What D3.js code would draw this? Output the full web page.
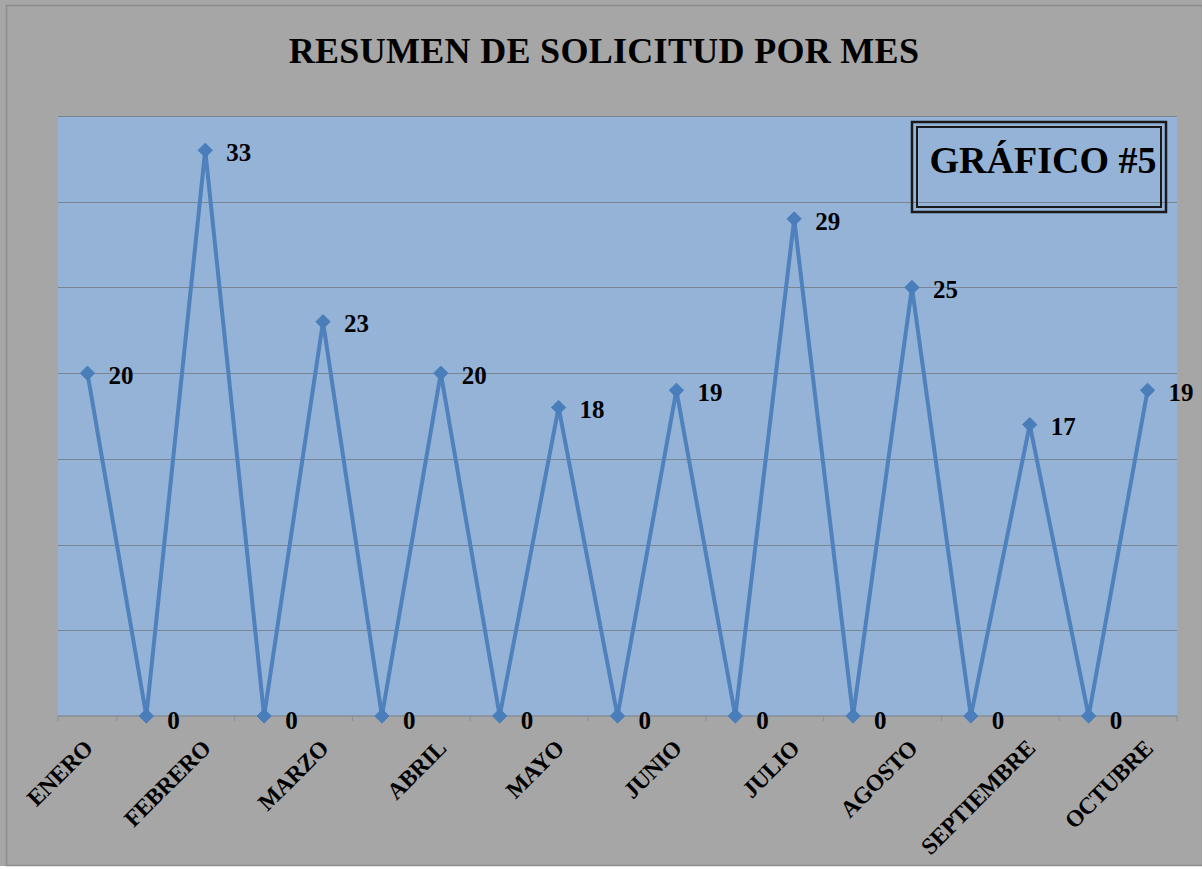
<!DOCTYPE html>
<html>
<head>
<meta charset="utf-8">
<script src="https://cdn.jsdelivr.net/npm/d3@7"></script>
<style>
  body { margin: 0; background: #ffffff; }
  svg { display: block; }
  text { font-family: "Liberation Serif", "Times New Roman", serif; font-weight: bold; }
</style>
</head>
<body>
<div id="chart"></div>
<script>
// data: 19 points, month names on every other slot
const categories = ["ENERO", "", "FEBRERO", "", "MARZO", "", "ABRIL", "", "MAYO", "",
    "JUNIO", "", "JULIO", "", "AGOSTO", "", "SEPTIEMBRE", "", "OCTUBRE"];
const values = [20, 0, 33, 0, 23, 0, 20, 0, 18, 0, 19, 0, 29, 0, 25, 0, 17, 0, 19];
const yTicks = [0, 5, 10, 15, 20, 25, 30, 35];
const title = "RESUMEN DE SOLICITUD POR MES";
const badge = "GRÁFICO #5";

const width = 1202;
const height = 869;
const margin = { top: 116, right: 25, bottom: 153, left: 58 };

const svg = d3.select("#chart")
    .append("svg")
    .attr("width", width)
    .attr("height", height);

// chart area background + frame
svg.append("rect")
    .attr("x", 0).attr("y", 0)
    .attr("width", width).attr("height", 866)
    .attr("fill", "#a6a6a6");
svg.append("rect")
    .attr("x", 6.5).attr("y", 5.5)
    .attr("width", width - 6).attr("height", 860)
    .attr("fill", "none")
    .attr("stroke", "#8c8c8c")
    .attr("stroke-width", 1.5);

const x = d3.scaleBand()
    .domain(d3.range(categories.length))
    .range([margin.left, width - margin.right]);

const y = d3.scaleLinear()
    .domain([0, 35])
    .range([height - margin.bottom, margin.top]);

const cx = i => x(i) + x.bandwidth() / 2;

// plot area
svg.append("rect")
    .attr("x", margin.left)
    .attr("y", margin.top)
    .attr("width", width - margin.left - margin.right)
    .attr("height", height - margin.top - margin.bottom)
    .attr("fill", "#95b3d7");

// gridlines
svg.append("g")
    .selectAll("line")
    .data(yTicks.slice(1))
    .enter()
    .append("line")
    .attr("x1", margin.left)
    .attr("x2", width - margin.right)
    .attr("y1", d => Math.round(y(d)) + 0.5)
    .attr("y2", d => Math.round(y(d)) + 0.5)
    .attr("stroke", "#7a8594")
    .attr("stroke-width", 1);

// x axis: ticks at band edges
const xAxis = svg.append("g")
    .attr("transform", `translate(0,${y(0)})`);
xAxis.append("line")
    .attr("x1", margin.left).attr("x2", width - margin.right)
    .attr("stroke", "#868e99").attr("stroke-width", 1.5);
xAxis.selectAll("line.tick")
    .data(d3.range(categories.length + 1))
    .enter()
    .append("line")
    .attr("class", "tick")
    .attr("x1", i => i < categories.length ? x(i) : x.range()[1])
    .attr("x2", i => i < categories.length ? x(i) : x.range()[1])
    .attr("y1", 0).attr("y2", 5)
    .attr("stroke", "#868e99");

xAxis.selectAll("text")
    .data(categories)
    .enter()
    .append("text")
    .attr("transform", (d, i) => `translate(${cx(i) + 1},${28}) rotate(-45)`)
    .attr("text-anchor", "end")
    .attr("dy", "0.35em")
    .attr("font-size", 23.5)
    .attr("letter-spacing", -0.4)
    .attr("fill", "#000")
    .text(d => d);

// line
const line = d3.line()
    .x((d, i) => cx(i))
    .y(d => y(d));

svg.append("path")
    .datum(values)
    .attr("fill", "none")
    .attr("stroke", "#4f81bd")
    .attr("stroke-width", 4)
    .attr("stroke-linejoin", "miter")
    .attr("d", line);

// diamond markers
svg.append("g")
    .selectAll("path")
    .data(values)
    .enter()
    .append("path")
    .attr("transform", (d, i) => `translate(${cx(i)},${y(d)})`)
    .attr("d", d3.symbol().type(d3.symbolDiamond2).size(130))
    .attr("fill", "#4a7ebb")
    .attr("stroke", "#4a7ebb")
    .attr("stroke-width", 1);

// data labels
svg.append("g")
    .selectAll("text")
    .data(values)
    .enter()
    .append("text")
    .attr("x", (d, i) => cx(i) + 21)
    .attr("y", d => y(d) + (d === 0 ? 4 : 2))
    .attr("dy", "0.35em")
    .attr("font-size", 25)
    .attr("fill", "#000")
    .text(d => d);

// title
svg.append("text")
    .attr("x", 604)
    .attr("y", 63)
    .attr("text-anchor", "middle")
    .attr("font-size", 36)
    .attr("letter-spacing", 0.3)
    .attr("fill", "#000")
    .text(title);

// badge with double border
const bx = 912, by = 122, bw = 254, bh = 90;
svg.append("rect")
    .attr("x", bx).attr("y", by).attr("width", bw).attr("height", bh)
    .attr("fill", "none").attr("stroke", "#1a1a1a").attr("stroke-width", 2.5);
svg.append("rect")
    .attr("x", bx + 5).attr("y", by + 5).attr("width", bw - 10).attr("height", bh - 10)
    .attr("fill", "none").attr("stroke", "#1a1a1a").attr("stroke-width", 2);
svg.append("text")
    .attr("x", bx + bw / 2 + 4)
    .attr("y", 173)
    .attr("text-anchor", "middle")
    .attr("font-size", 38)
    .attr("fill", "#000")
    .text(badge);
</script>
</body>
</html>
